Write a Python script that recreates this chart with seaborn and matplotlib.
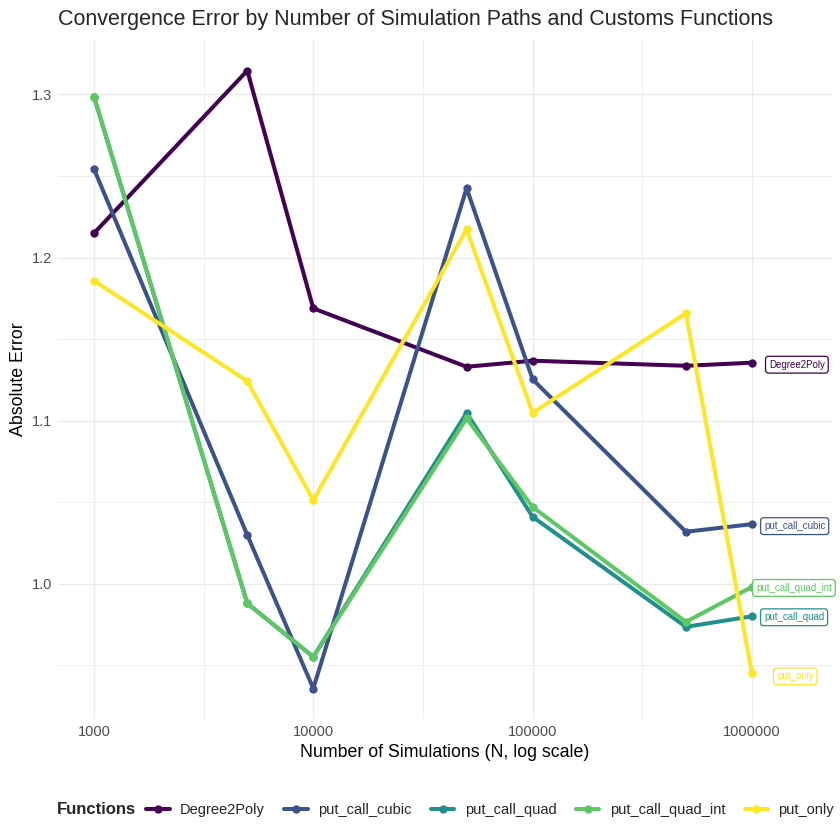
import numpy as np
import pandas as pd
import seaborn as sns
from matplotlib import pyplot as plt
from matplotlib.ticker import FixedLocator, NullFormatter

n_sims = [1000, 5000, 10000, 50000, 100000, 500000, 1000000]
functions = ["Degree2Poly", "put_call_cubic", "put_call_quad", "put_call_quad_int", "put_only"]

err_degree2poly = [1.2149, 1.3146, 1.1688, 1.1330, 1.1367, 1.1336, 1.1355]
err_put_call_cubic = [1.2543, 1.0298, 0.9357, 1.2425, 1.1253, 1.0318, 1.0365]
err_put_call_quad = [1.2987, 0.9879, 0.9551, 1.1048, 1.0410, 0.9735, 0.9800]
err_put_call_quad_int = [1.2987, 0.9879, 0.9551, 1.1013, 1.0470, 0.9766, 0.9980]
err_put_only = [1.1858, 1.1242, 1.0512, 1.2173, 1.1048, 1.1658, 0.9450]

palette = ["#440154", "#3B528B", "#21908C", "#5DC863", "#FDE725"]

# label offsets from last point (pixels)
label_dx = [17, 12, 12, 4, 25]
label_dy = [-2, -2, -1, -1, -3]

df = pd.DataFrame({
    "N": n_sims * 5,
    "Function": np.repeat(functions, len(n_sims)),
    "Error": err_degree2poly + err_put_call_cubic + err_put_call_quad
             + err_put_call_quad_int + err_put_only,
})

sns.set_theme(style="whitegrid")
plt.rcParams["font.family"] = ["Liberation Sans", "DejaVu Sans"]

fig = plt.figure(figsize=(8.4, 8.4), dpi=100)
ax = fig.add_axes([58 / 840, 1 - 719 / 840, (832 - 58) / 840, (719 - 39) / 840])

sns.lineplot(data=df, x="N", y="Error", hue="Function", hue_order=functions,
             palette=palette, marker="o", markersize=6, markeredgewidth=0,
             linewidth=2.9, estimator=None, ax=ax, legend=True)

ax.set_xscale("log")
ax.set_xlim(10 ** 2.836, 10 ** 6.365)
ax.set_ylim(0.917, 1.334)

ax.xaxis.set_major_locator(FixedLocator([1e3, 1e4, 1e5, 1e6]))
ax.set_xticklabels(["1000", "10000", "100000", "1000000"])
ax.xaxis.set_minor_locator(FixedLocator([10 ** 3.5, 10 ** 4.5, 10 ** 5.5]))
ax.xaxis.set_minor_formatter(NullFormatter())
ax.yaxis.set_major_locator(FixedLocator([1.0, 1.1, 1.2, 1.3]))
ax.set_yticklabels(["1.0", "1.1", "1.2", "1.3"])
ax.yaxis.set_minor_locator(FixedLocator([0.95, 1.05, 1.15, 1.25]))

ax.grid(which="major", color="#EBEBEB", linewidth=1.0)
ax.grid(which="minor", color="#EBEBEB", linewidth=0.6)
ax.set_facecolor("white")
for s in ax.spines.values():
    s.set_visible(False)
ax.tick_params(which="both", length=0, labelsize=10.5, labelcolor="#4D4D4D", pad=4)

ax.set_xlabel("Number of Simulations (N, log scale)", fontsize=12.8, color="black")
ax.set_ylabel("Absolute Error", fontsize=12.8, color="black")
ax.set_title("Convergence Error by Number of Simulation Paths and Customs Functions",
             fontsize=15.5, loc="left", pad=10)

# end-of-line labels
for i, f in enumerate(functions):
    sub = df[df["Function"] == f]
    ax.annotate(f, xy=(sub["N"].iloc[-1], sub["Error"].iloc[-1]),
                xytext=(label_dx[i], label_dy[i]), textcoords="offset pixels",
                ha="left", va="center", fontsize=7, color=palette[i],
                bbox=dict(boxstyle="round,pad=0.35,rounding_size=0.3",
                          fc="white", ec=palette[i], lw=0.9),
                annotation_clip=False)

handles, labels = ax.get_legend_handles_labels()
ax.get_legend().remove()
fig.text(57 / 840, 1 - 810 / 840, "Functions", fontsize=12, fontweight="bold",
         ha="left", va="center")
fig.legend(handles, labels, loc="center left", bbox_to_anchor=(136 / 840, 1 - 810 / 840),
           ncol=5, frameon=False, fontsize=10.5, handlelength=1.6,
           columnspacing=1.35, handletextpad=0.7, borderpad=0.2)

fig.savefig("out.png", dpi=100, facecolor="white")
